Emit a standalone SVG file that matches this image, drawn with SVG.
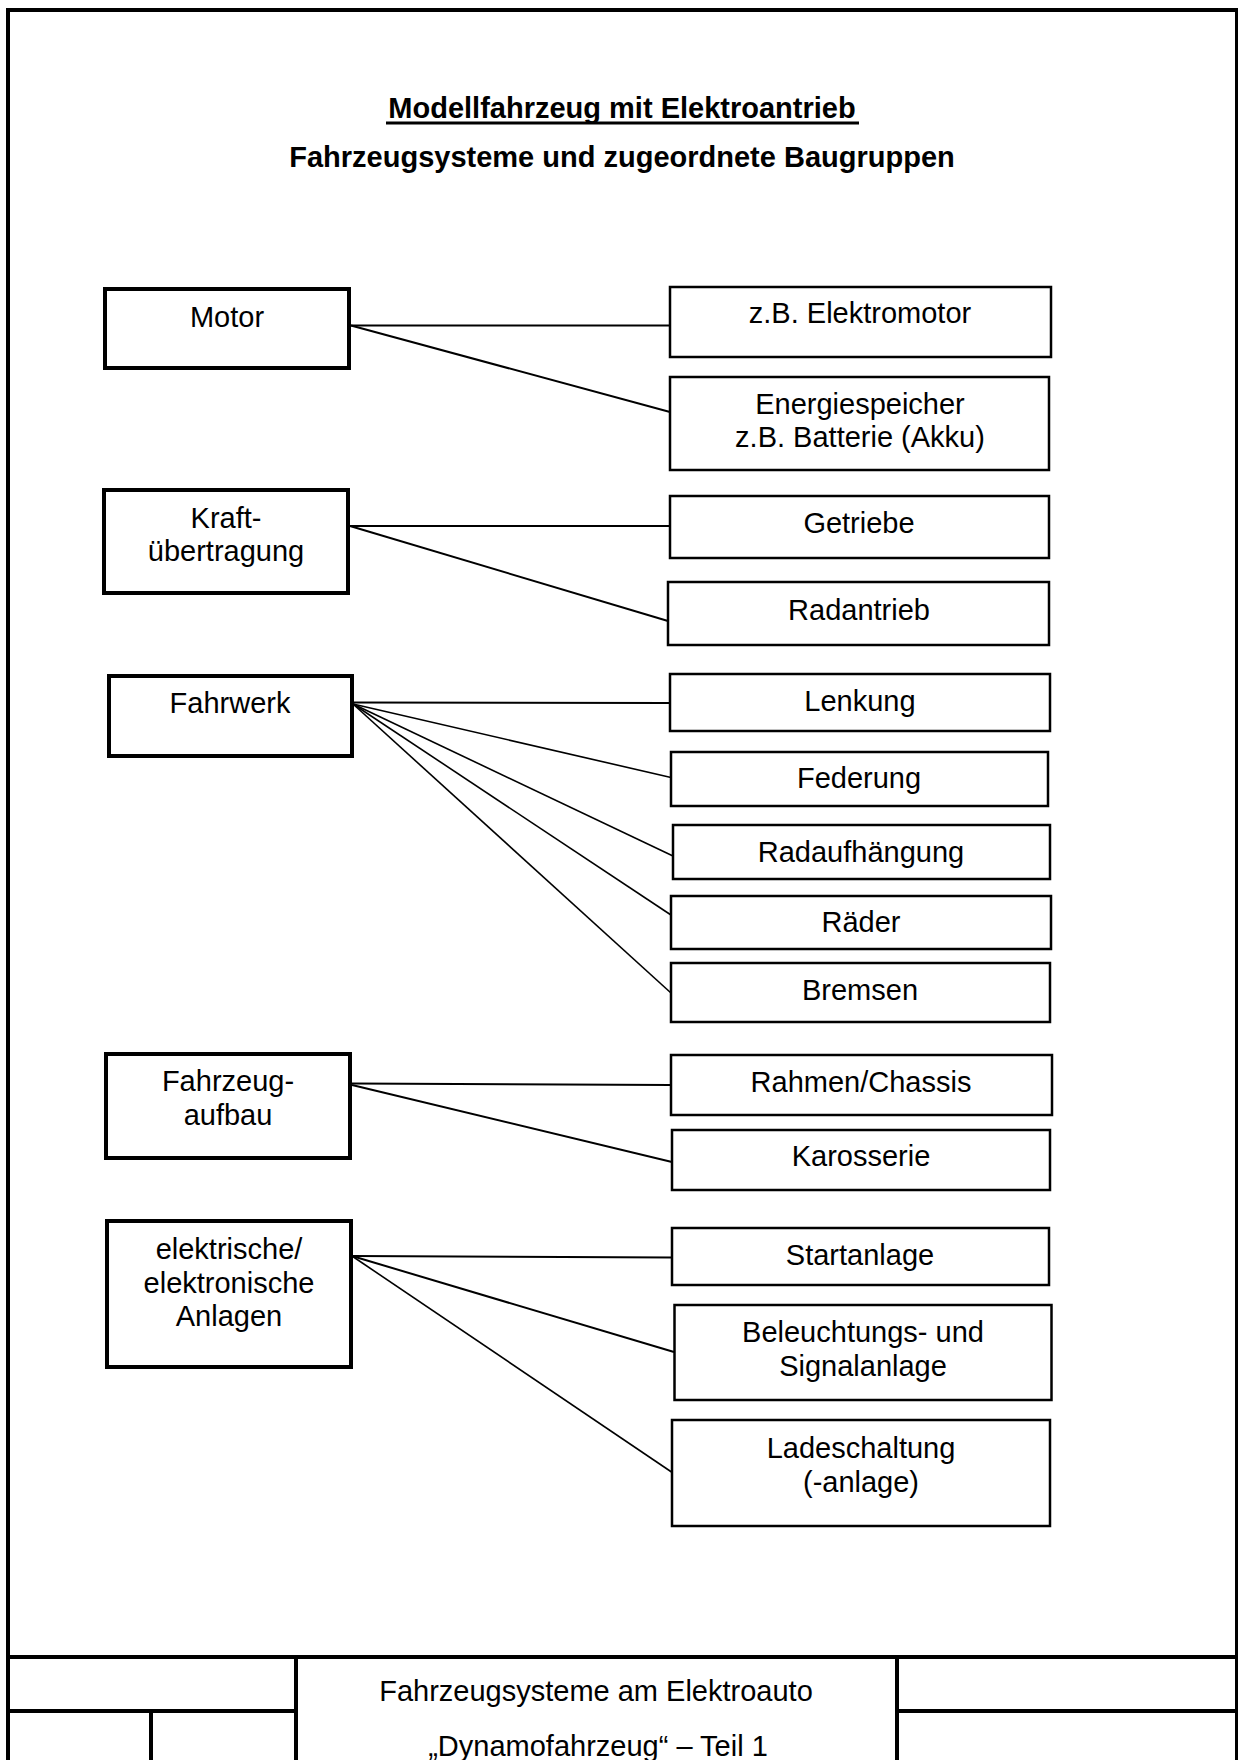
<svg xmlns="http://www.w3.org/2000/svg" width="1238" height="1760" viewBox="0 0 1238 1760">
  <style>
    text { font-family: "Liberation Sans", Arial, sans-serif; font-size: 29px; fill: #000; text-anchor: middle; }
    .title { font-weight: bold; }
    .sys { fill: #fff; stroke: #000; stroke-width: 4; }
    .part { fill: #fff; stroke: #000; stroke-width: 2.5; }
    .frame { fill: none; stroke: #000; stroke-width: 4; }
    #connectors line { stroke: #000; stroke-width: 2; }
    #connectors .fan { stroke-width: 1.6; }
  </style>
  <rect width="1238" height="1760" fill="#fff"/>

  <!-- drawing frame and title block -->
  <g id="frame">
    <rect class="frame" x="8" y="10" width="1229" height="1770"/>
    <line class="frame" x1="8" y1="1657" x2="1237" y2="1657"/>
    <line class="frame" x1="8" y1="1711" x2="296" y2="1711"/>
    <line class="frame" x1="897" y1="1711" x2="1237" y2="1711"/>
    <line class="frame" x1="296" y1="1657" x2="296" y2="1770"/>
    <line class="frame" x1="897" y1="1657" x2="897" y2="1770"/>
    <line class="frame" x1="151" y1="1711" x2="151" y2="1770"/>
    <text x="596" y="1701">Fahrzeugsysteme am Elektroauto</text>
    <text x="598" y="1756">„Dynamofahrzeug“ – Teil 1</text>
  </g>

  <!-- headings -->
  <g id="heading">
    <text class="title" x="622" y="118">Modellfahrzeug mit Elektroantrieb</text>
    <rect x="386" y="121.5" width="473" height="3" fill="#000"/>
    <text class="title" x="622" y="167">Fahrzeugsysteme und zugeordnete Baugruppen</text>
  </g>

  <!-- connectors -->
  <g id="connectors">
    <line x1="351" y1="325.5" x2="670" y2="325.5"/>
    <line x1="351" y1="325.5" x2="670" y2="412"/>
    <line x1="350" y1="526" x2="670" y2="526"/>
    <line x1="350" y1="526" x2="668" y2="621"/>
    <line x1="353" y1="702.5" x2="670" y2="703"/>
    <line class="fan" x1="353" y1="704" x2="671" y2="777.5"/>
    <line class="fan" x1="353" y1="704" x2="673" y2="856"/>
    <line class="fan" x1="353" y1="704" x2="671" y2="915"/>
    <line class="fan" x1="353" y1="704" x2="671" y2="993"/>
    <line x1="352" y1="1083.5" x2="671" y2="1085"/>
    <line x1="352" y1="1085" x2="672" y2="1162"/>
    <line x1="352" y1="1256" x2="672" y2="1257.5"/>
    <line x1="352" y1="1256" x2="674" y2="1352"/>
    <line class="fan" x1="352" y1="1256" x2="673" y2="1473"/>
  </g>

  <!-- vehicle systems -->
  <g id="motor">
    <rect class="sys" x="105" y="289" width="244" height="79"/>
    <text x="227" y="327">Motor</text>
  </g>
  <g id="kraftuebertragung">
    <rect class="sys" x="104" y="490" width="244" height="103"/>
    <text x="226" y="528">Kraft-</text>
    <text x="226" y="561">übertragung</text>
  </g>
  <g id="fahrwerk">
    <rect class="sys" x="109" y="676" width="243" height="80"/>
    <text x="230" y="713">Fahrwerk</text>
  </g>
  <g id="fahrzeugaufbau">
    <rect class="sys" x="106" y="1054" width="244" height="104"/>
    <text x="228" y="1091">Fahrzeug-</text>
    <text x="228" y="1125">aufbau</text>
  </g>
  <g id="elektrik">
    <rect class="sys" x="107" y="1221" width="244" height="146"/>
    <text x="229" y="1259">elektrische/</text>
    <text x="229" y="1292.5">elektronische</text>
    <text x="229" y="1326">Anlagen</text>
  </g>

  <!-- assigned assemblies -->
  <g id="elektromotor">
    <rect class="part" x="670" y="287" width="381" height="70"/>
    <text x="860" y="323">z.B. Elektromotor</text>
  </g>
  <g id="energiespeicher">
    <rect class="part" x="670" y="377" width="379" height="93"/>
    <text x="860" y="414">Energiespeicher</text>
    <text x="860" y="447">z.B. Batterie (Akku)</text>
  </g>
  <g id="getriebe">
    <rect class="part" x="670" y="496" width="379" height="62"/>
    <text x="859" y="533">Getriebe</text>
  </g>
  <g id="radantrieb">
    <rect class="part" x="668" y="582" width="381" height="63"/>
    <text x="859" y="620">Radantrieb</text>
  </g>
  <g id="lenkung">
    <rect class="part" x="670" y="674" width="380" height="57"/>
    <text x="860" y="711">Lenkung</text>
  </g>
  <g id="federung">
    <rect class="part" x="671" y="752" width="377" height="54"/>
    <text x="859" y="788">Federung</text>
  </g>
  <g id="radaufhaengung">
    <rect class="part" x="673" y="825" width="377" height="54"/>
    <text x="861" y="862">Radaufhängung</text>
  </g>
  <g id="raeder">
    <rect class="part" x="671" y="896" width="380" height="53"/>
    <text x="861" y="932">Räder</text>
  </g>
  <g id="bremsen">
    <rect class="part" x="671" y="963" width="379" height="59"/>
    <text x="860" y="1000">Bremsen</text>
  </g>
  <g id="rahmen">
    <rect class="part" x="671" y="1055" width="381" height="60"/>
    <text x="861" y="1092">Rahmen/Chassis</text>
  </g>
  <g id="karosserie">
    <rect class="part" x="672" y="1130" width="378" height="60"/>
    <text x="861" y="1166">Karosserie</text>
  </g>
  <g id="startanlage">
    <rect class="part" x="672" y="1228" width="377" height="57"/>
    <text x="860" y="1265">Startanlage</text>
  </g>
  <g id="beleuchtung">
    <rect class="part" x="674.5" y="1305" width="377" height="95"/>
    <text x="863" y="1341.5">Beleuchtungs- und</text>
    <text x="863" y="1375.5">Signalanlage</text>
  </g>
  <g id="ladeschaltung">
    <rect class="part" x="672" y="1420" width="378" height="106"/>
    <text x="861" y="1458">Ladeschaltung</text>
    <text x="861" y="1492">(-anlage)</text>
  </g>
</svg>
